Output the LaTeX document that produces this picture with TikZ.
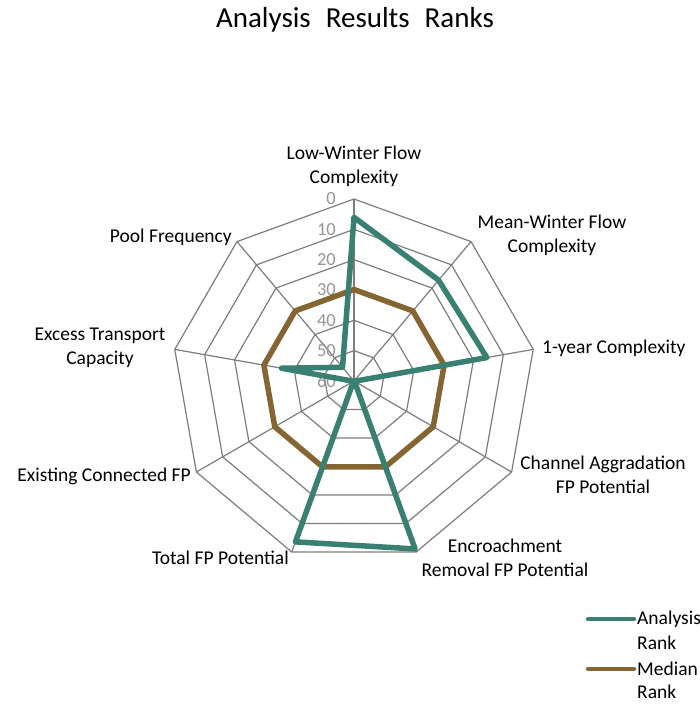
\documentclass[tikz,border=0pt]{standalone}
\usepackage{fontspec}
\setmainfont{Carlito}
\definecolor{seriesA}{RGB}{58,128,114}
\definecolor{seriesM}{RGB}{133,101,50}
\definecolor{gridgray}{RGB}{125,125,125}
\definecolor{tickgray}{RGB}{150,150,150}
\begin{document}
\begin{tikzpicture}[x=1pt,y=-1pt,
  lbl/.style={font=\fontsize{19.5}{24}\selectfont, align=center, inner sep=0pt, text=black},
  ticklbl/.style={font=\fontsize{18.5}{20}\selectfont, text=tickgray, anchor=east, inner sep=0pt},
  gridline/.style={draw=gridgray, line width=1.2pt},
  serieswidth/.style={line width=5.5pt, line join=round},
  legline/.style={line width=4.5pt, line cap=round}]
\useasboundingbox (0,0) rectangle (700,705);
\fill[white] (0,0) rectangle (700,705);

\node[lbl, font=\fontsize{29}{30}\selectfont] (title) at (355,20) {Analysis\hspace{15pt}Results\hspace{15pt}Ranks};

\begin{scope}[shift={(354,381)}, y=1pt]
  \coordinate (ctr) at (0,0);
  % grid rings
  \foreach \k in {1,...,6}{
    \draw[gridline] (90:{\k*182/6}) \foreach \a in {50,10,-30,-70,-110,-150,-190,-230}{ -- (\a:{\k*182/6}) } -- cycle;
  }
  % spokes
  \foreach \a/\n in {90/1,50/2,10/3,-30/4,-70/5,-110/6,-150/7,-190/8,-230/9}{
    \coordinate (v\n) at (\a:182);
    \draw[gridline] (ctr) -- (v\n);
  }
  % tick labels
  \foreach \v in {0,10,...,60}{
    \node[ticklbl] (t\v) at ({-18},{182*(60-\v)/60}) {\v};
  }
  % median rank
  \foreach \a/\n in {90/1,50/2,10/3,-30/4,-70/5,-110/6,-150/7,-190/8,-230/9}{
    \coordinate (m\n) at (\a:91.5);
  }
  \draw[serieswidth, seriesM] (m1) -- (m2) -- (m3) -- (m4) -- (m5) -- (m6) -- (m7) -- (m8) -- (m9) -- cycle;
  % analysis rank
  \coordinate (a1) at (90:163.7);
  \coordinate (a2) at (50:131.6);
  \coordinate (a3) at (10:134.9);
  \coordinate (a4) at (-30:0.5);
  \coordinate (a5) at (-70:178.7);
  \coordinate (a6) at (-110:171.2);
  \coordinate (a7) at (-150:0.5);
  \coordinate (a8) at (170:73.6);
  \coordinate (a9) at (130:17.9);
  \draw[serieswidth, seriesA] (a1) -- (a2) -- (a3) -- (a4) -- (a5) -- (a6) -- (a7) -- (a8) -- (a9) -- cycle;
\end{scope}

% axis labels
\node[lbl] (L1) at (354,166) {Low-Winter Flow\\Complexity};
\node[lbl] (L2) at (552,235) {Mean-Winter Flow\\Complexity};
\node[lbl, anchor=west] (L3) at (542,348) {1-year Complexity};
\node[lbl] (L4) at (603,475) {Channel Aggradation\\FP Potential};
\node[lbl] (L5) at (505,558) {Encroachment\\Removal FP Potential};
\node[lbl, anchor=east] (L6) at (289,558) {Total FP Potential};
\node[lbl, anchor=east] (L7) at (191,476) {Existing Connected FP};
\node[lbl] (L8) at (100,348) {Excess Transport\\Capacity};
\node[lbl, anchor=east] (L9) at (232,237) {Pool Frequency};

% legend
\coordinate (la1) at (588,619);
\coordinate (la2) at (634,619);
\draw[legline, seriesA] (la1) -- (la2);
\node[lbl, anchor=west] (lt1) at (637,619) {Analysis};
\node[lbl, anchor=west] (lt2) at (637,643) {Rank};
\coordinate (lm1) at (588,669);
\coordinate (lm2) at (634,669);
\draw[legline, seriesM] (lm1) -- (lm2);
\node[lbl, anchor=west] (lt3) at (637,669) {Median};
\node[lbl, anchor=west] (lt4) at (637,692) {Rank};
\end{tikzpicture}
\end{document}
